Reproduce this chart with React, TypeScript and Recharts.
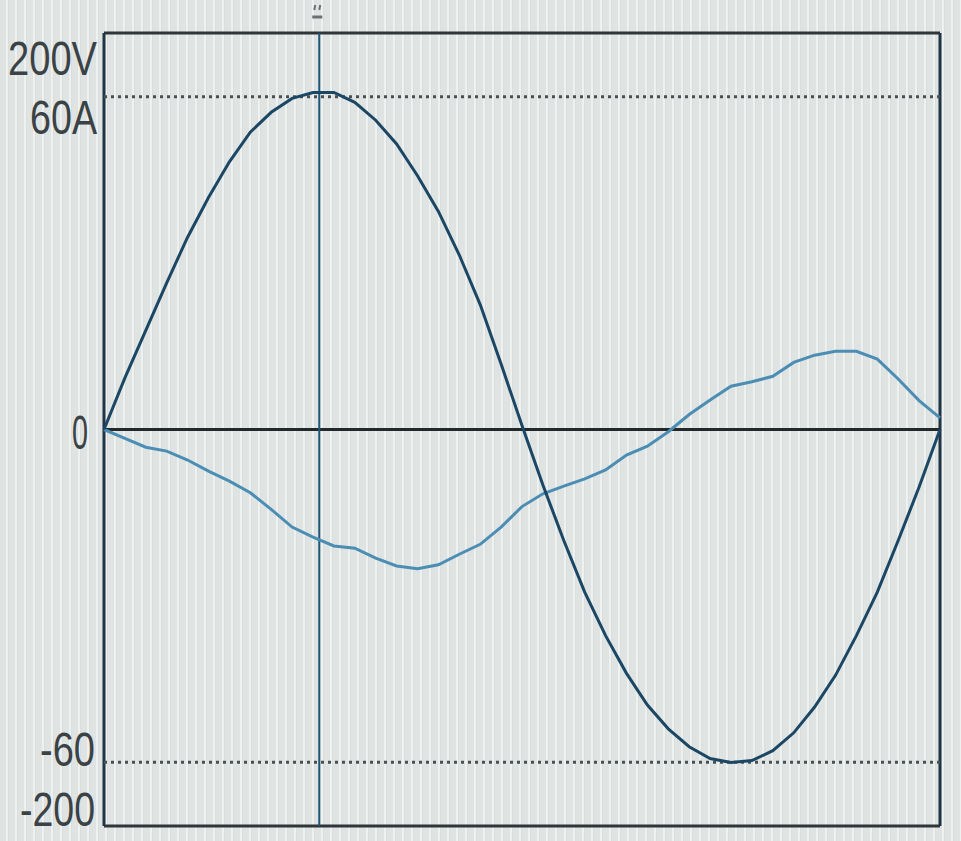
import { LineChart, Line, XAxis, YAxis, ReferenceLine } from 'recharts'

// one mains cycle, 40 sample steps
const samples = [
  0, 1, 2, 3, 4, 5, 6, 7, 8, 9, 10, 11, 12, 13, 14, 15, 16, 17, 18, 19, 20,
  21, 22, 23, 24, 25, 26, 27, 28, 29, 30, 31, 32, 33, 34, 35, 36, 37, 38, 39, 40,
]

// volts
const voltage = [
  0, 26, 50, 74, 97, 117, 135, 150, 160, 167, 170, 170, 165, 156, 144, 128, 110, 88, 63, 33, 2,
  -28, -56, -82, -104, -123, -139, -151, -160, -166, -168, -167, -162, -153, -140, -124, -104, -82, -56, -29, 0,
]

// amps
const current = [
  0, -1.6, -3.2, -3.9, -5.5, -7.5, -9.3, -11.4, -14.4, -17.6, -19.4, -21.0, -21.4, -23.2, -24.6, -25.1, -24.4, -22.5, -20.7, -17.6, -13.9,
  -11.6, -10.2, -8.9, -7.3, -4.6, -3.0, -0.4, 2.7, 5.3, 7.8, 8.6, 9.6, 12.1, 13.4, 14.1, 14.1, 12.7, 9.1, 5.2, 2.1,
]

const voltTicks = [200, 0, -200]
const voltTickLabels = ['200V', '0', '-200']
const ampMarks = [60, -60]
const ampLabels = ['60A', '-60']
const cursorAt = 10.3

const data = samples.map((t, idx) => ({ t, v: voltage[idx], a: current[idx] }))

const INK = '#3b4245'
const FRAME = '#2f3538'
const FONT = '"Liberation Sans", Arial, sans-serif'

// baseline offset / right edge / width of each scale label
const labelStyle: Record<string, { dy: number; right: number; w: number }> = {
  '200V': { dy: 42, right: 97, w: 89 },
  '0': { dy: 19, right: 88, w: 16 },
  '-200': { dy: 0, right: 95, w: 75 },
  '60A': { dy: 37, right: 97, w: 67 },
  '-60': { dy: 4, right: 95, w: 55 },
}

function ScaleText({ text, y }: { text: string; y: number }) {
  const s = labelStyle[text]
  return (
    <text
      x={s.right}
      y={y + s.dy}
      textAnchor="end"
      fontFamily={FONT}
      fontSize={49}
      fill={INK}
      textLength={s.w}
      lengthAdjust="spacingAndGlyphs"
    >
      {text}
    </text>
  )
}

function VoltTick(props: any) {
  const idx = voltTicks.indexOf(props.payload.value)
  if (idx < 0) return <g />
  return <ScaleText text={voltTickLabels[idx]} y={props.y} />
}

function AmpLabel(text: string) {
  return (props: any) => <ScaleText text={text} y={props.viewBox.y} />
}

function CursorMark(props: any) {
  const x = props.viewBox.x
  return (
    <g stroke="#6b7072" strokeWidth={2}>
      <line x1={x - 4} y1={5} x2={x - 5} y2={10} />
      <line x1={x + 1} y1={5} x2={x} y2={10} />
      <line x1={x - 7} y1={17} x2={x + 3} y2={17} strokeWidth={3} />
    </g>
  )
}

export default function App() {
  return (
    <div
      style={{
        position: 'fixed',
        inset: 0,
        background:
          'repeating-linear-gradient(90deg, #dfe4e3 0px, #dfe4e3 6px, #eef1f0 6px, #eef1f0 8px, #d9dfde 8px, #d9dfde 9px)',
      }}
    >
      <LineChart
        width={961}
        height={841}
        data={data}
        margin={{ top: 33, right: 21, bottom: 15, left: 0 }}
      >
        <XAxis dataKey="t" type="number" domain={[0, 40]} hide />
        <YAxis
          yAxisId="v"
          domain={[-200, 200]}
          ticks={voltTicks}
          interval={0}
          width={104}
          axisLine={false}
          tickLine={false}
          tick={(p: any) => <VoltTick {...p} />}
        />
        <YAxis yAxisId="a" domain={[-71.5, 71.5]} hide />

        {/* frame and zero line */}
        <ReferenceLine yAxisId="v" y={200} stroke={FRAME} strokeWidth={3} />
        <ReferenceLine yAxisId="v" y={-200} stroke={FRAME} strokeWidth={3} />
        <ReferenceLine yAxisId="v" x={0} stroke="#1f3545" strokeWidth={3} />
        <ReferenceLine yAxisId="v" x={40} stroke="#1f3545" strokeWidth={3} />
        <ReferenceLine yAxisId="v" y={0} stroke="#23282a" strokeWidth={3} />

        {ampMarks.map((m, idx) => (
          <ReferenceLine
            key={m}
            yAxisId="a"
            y={m}
            stroke="#4a5052"
            strokeWidth={3}
            strokeDasharray="3 4"
            label={AmpLabel(ampLabels[idx])}
          />
        ))}

        <ReferenceLine yAxisId="v" x={cursorAt} stroke="#1d5676" strokeWidth={2} label={CursorMark} />

        <Line
          yAxisId="a"
          dataKey="a"
          type="linear"
          stroke="#4c8db4"
          strokeWidth={3}
          dot={false}
          isAnimationActive={false}
        />
        <Line
          yAxisId="v"
          dataKey="v"
          type="linear"
          stroke="#1c4764"
          strokeWidth={3}
          dot={false}
          isAnimationActive={false}
        />
      </LineChart>
    </div>
  )
}
